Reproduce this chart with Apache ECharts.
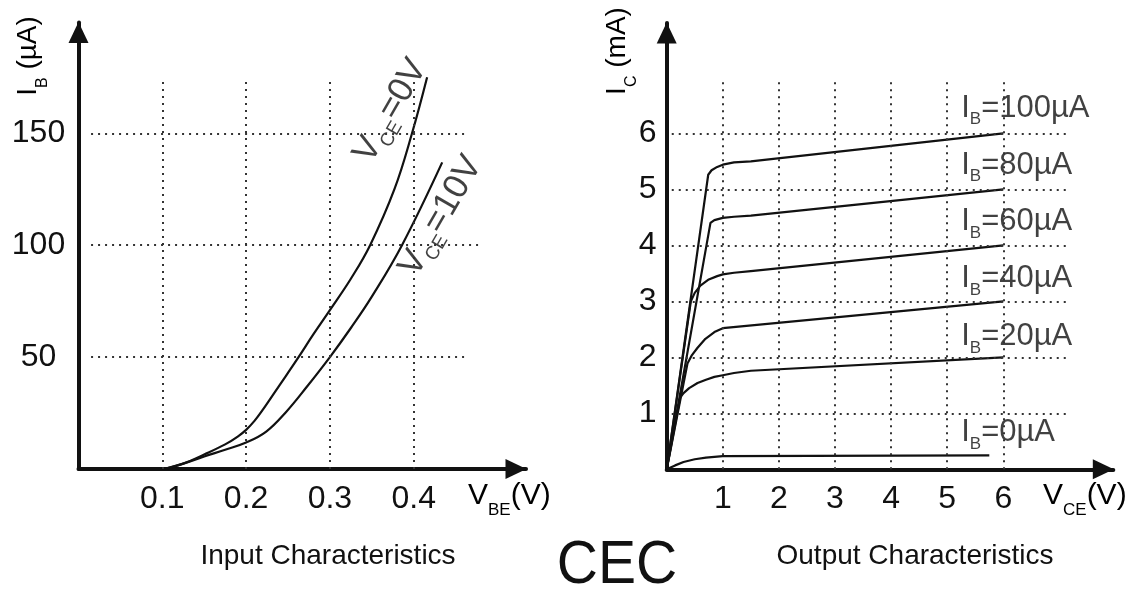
<!DOCTYPE html>
<html>
<head>
<meta charset="utf-8">
<script src="https://cdn.jsdelivr.net/npm/echarts@6/dist/echarts.min.js"></script>
<style>
    html, body {margin: 0; padding: 0; background: #fff;}
    #cec {width: 1131px; height: 592px;}
</style>
</head>
<body>
<div id="cec"></div>
<script>
// input characteristics: I_B (uA) against V_BE (V)
var vbeTicks = [0.1, 0.2, 0.3, 0.4];
var ibTicks = [50, 100, 150];
var vce0X = [0.102, 0.125, 0.15, 0.175, 0.19, 0.2, 0.21, 0.22, 0.24, 0.26, 0.28, 0.3, 0.325, 0.348, 0.377, 0.398, 0.416];
var vce0Y = [0, 2.4, 6.5, 11, 14.5, 17.5, 21.5, 26.5, 37.5, 48.5, 60, 71, 85, 100, 125, 150, 175];
var vce10X = [0.102, 0.125, 0.15, 0.175, 0.2, 0.224, 0.248, 0.272, 0.3, 0.325, 0.35, 0.386, 0.434];
var vce10Y = [0, 2.4, 5.6, 8.6, 11.8, 16.7, 25.6, 36.5, 50, 63, 77, 100, 137];
var vceNames = ['0V', '10V'];

// output characteristics: I_C (mA) against V_CE (V)
var vceTicks = [1, 2, 3, 4, 5, 6];
var icTicks = [1, 2, 3, 4, 5, 6];
var ibNames = ['100', '80', '60', '40', '20', '0'];
var ib100X = [0, 0.74, 0.8, 0.9, 1.0, 1.2, 1.5, 6];
var ib100Y = [0, 5.26, 5.34, 5.4, 5.44, 5.48, 5.5, 6];
var ib80X = [0, 0.78, 0.85, 1.0, 1.2, 1.5, 6];
var ib80Y = [0, 4.4, 4.45, 4.49, 4.51, 4.53, 5];
var ib60X = [0, 0.43, 0.5, 0.6, 0.75, 0.9, 1.0, 1.2, 1.5, 6];
var ib60Y = [0, 3.0, 3.15, 3.28, 3.39, 3.45, 3.48, 3.51, 3.54, 4];
var ib40X = [0, 0.37, 0.45, 0.55, 0.69, 0.85, 1.0, 6];
var ib40Y = [0, 1.89, 2.04, 2.17, 2.33, 2.45, 2.52, 3];
var ib20X = [0, 0.24, 0.3, 0.4, 0.55, 0.7, 0.85, 1.0, 1.2, 1.5, 6];
var ib20Y = [0, 1.28, 1.36, 1.45, 1.54, 1.6, 1.65, 1.68, 1.72, 1.76, 2];
var ib0X = [0, 0.15, 0.3, 0.5, 0.7, 1.0, 5.75];
var ib0Y = [0, 0.07, 0.13, 0.18, 0.21, 0.235, 0.25];

// where the curve names sit (data coords)
var vceLabelAt = [[0.3725, 160], [0.4325, 113]];
var ibLabelX = 5.24;
var ibLabelY = [6.45, 5.43, 4.42, 3.41, 2.37, 0.65];

var FONT = "'Liberation Sans', Arial, sans-serif";
var INK = '#111';

function pairs(xs, ys) {
    return xs.map(function (x, i) { return [x, ys[i]]; });
}

function subRich(size, sub, lh) {
    return {
        m: {fontSize: size, fontFamily: FONT, color: INK, lineHeight: lh},
        s: {fontSize: sub, fontFamily: FONT, color: INK, lineHeight: sub, verticalAlign: 'bottom'}
    };
}

function drawCec() {
    var myChart = echarts.init(document.getElementById('cec'));

    var dotted = {type: [2, 5], color: '#333', width: 2};
    var curve = {color: INK, width: 2.2};

    // grid lines of the left plot
    var leftGrid = vbeTicks.map(function (t) {
        return [{coord: [t, 0]}, {coord: [t, 175]}];
    });
    var hEnds = [0.465, 0.48, 0.465];
    ibTicks.forEach(function (t, i) {
        leftGrid.push([{coord: [0.015, t]}, {coord: [hEnds[i], t]}]);
    });
    // grid lines of the right plot
    var rightGrid = vceTicks.map(function (t) {
        return [{coord: [t, 0]}, {coord: [t, 7]}];
    });
    icTicks.forEach(function (t) {
        rightGrid.push([{coord: [0.09, t]}, {coord: [7.2, t]}]);
    });

    function axisX(idx, max, vals) {
        return {
            type: 'value', gridIndex: idx, min: 0, max: max,
            splitLine: {show: false},
            axisTick: {show: false},
            axisLine: {
                lineStyle: {color: INK, width: 4},
                symbol: ['none', 'triangle'],
                symbolSize: [20, 21],
                symbolOffset: [0, -10]
            },
            axisLabel: {
                customValues: vals, margin: 14,
                fontSize: 32, fontFamily: FONT, color: INK
            }
        };
    }

    function axisY(idx, max, vals, margin) {
        return {
            type: 'value', gridIndex: idx, min: 0, max: max,
            splitLine: {show: false},
            axisTick: {show: false},
            axisLine: {
                lineStyle: {color: INK, width: 4},
                symbol: ['none', 'triangle'],
                symbolSize: [20, 21],
                symbolOffset: [0, -10]
            },
            axisLabel: {
                customValues: vals, margin: margin, align: 'center',
                fontSize: 32, fontFamily: FONT, color: INK
            }
        };
    }

    function text(x, y, str, size, extra) {
        var el = {
            type: 'text', x: x, y: y, silent: true,
            style: {
                text: str, fill: INK,
                font: size + 'px ' + FONT,
                align: 'center', verticalAlign: 'middle',
                textAlign: 'center', textVerticalAlign: 'middle'
            }
        };
        if (extra) {
            for (var k in extra) el[k] = extra[k];
        }
        return el;
    }

    function richText(x, y, str, rich, rot, left) {
        return {
            type: 'text', x: x, y: y, rotation: rot || 0, silent: true,
            style: {
                text: str, rich: rich,
                align: left ? 'left' : 'center', verticalAlign: 'middle',
                textAlign: left ? 'left' : 'center', textVerticalAlign: 'middle'
            }
        };
    }

    var ibSeries = [
        pairs(ib100X, ib100Y), pairs(ib80X, ib80Y), pairs(ib60X, ib60Y),
        pairs(ib40X, ib40Y), pairs(ib20X, ib20Y), pairs(ib0X, ib0Y)
    ].map(function (d, i) {
        var s = {
            type: 'line', xAxisIndex: 1, yAxisIndex: 1,
            data: d, showSymbol: false, lineStyle: curve, silent: true
        };
        if (i === 0) {
            s.markLine = {
                silent: true, symbol: ['none', 'none'], label: {show: false},
                lineStyle: dotted, data: rightGrid
            };
        }
        return s;
    });

    option = {
        animation: false,
        backgroundColor: '#fff',
        grid: [
            {left: 78.5, top: 22.5, width: 447.5, height: 446.5, outerBoundsMode: 'none'},
            {left: 666.7, top: 23, width: 446.6, height: 446.3, outerBoundsMode: 'none'}
        ],
        xAxis: [axisX(0, 0.534, vbeTicks), axisX(1, 7.96, vceTicks)],
        yAxis: [axisY(0, 199.5, ibTicks, 40), axisY(1, 7.97, icTicks, 19)],
        graphic: [
            richText(28, 56, '{m|I}{s|B}{m| (µA)}', subRich(28, 16, 46), Math.PI / 2),
            richText(617, 51, '{m|I}{s|C}{m| (mA)}', subRich(28, 16, 46), Math.PI / 2),
            richText(468, 496, '{m|V}{s|BE}{m|(V)}', subRich(30, 17, 46), 0, true),
            richText(1043, 496, '{m|V}{s|CE}{m|(V)}', subRich(30, 17, 46), 0, true),
            text(328, 556, 'Input Characteristics', 28),
            text(915, 556, 'Output Characteristics', 28),
            text(617, 566, 'CEC', 62, {scaleX: 0.92})
        ],
        series: [
            {
                type: 'line', xAxisIndex: 0, yAxisIndex: 0,
                data: pairs(vce0X, vce0Y), smooth: 0.4, showSymbol: false,
                lineStyle: curve, silent: true,
                markLine: {
                    silent: true, symbol: ['none', 'none'], label: {show: false},
                    lineStyle: dotted, data: leftGrid
                }
            },
            {
                type: 'line', xAxisIndex: 0, yAxisIndex: 0,
                data: pairs(vce10X, vce10Y), smooth: 0.4, showSymbol: false,
                lineStyle: curve, silent: true
            },
            {
                type: 'scatter', xAxisIndex: 0, yAxisIndex: 0, silent: true,
                symbolSize: 1, itemStyle: {color: 'transparent'},
                data: vceNames.map(function (n, i) {
                    return {name: n, value: vceLabelAt[i]};
                }),
                label: {
                    show: true, position: 'inside', rotate: 60,
                    formatter: function (p) {
                        return '{m|V}{s|CE}{m|=' + p.name + '}';
                    },
                    rich: subRich(35, 19, 44)
                }
            },
            {
                type: 'scatter', xAxisIndex: 1, yAxisIndex: 1, silent: true,
                symbolSize: 1, itemStyle: {color: 'transparent'},
                data: ibNames.map(function (n, i) {
                    return {name: n, value: [ibLabelX, ibLabelY[i]]};
                }),
                label: {
                    show: true, position: 'right', distance: 0,
                    formatter: function (p) {
                        return '{m|I}{s|B}{m|=' + p.name + 'µA}';
                    },
                    rich: subRich(31, 17, 40)
                }
            }
        ].concat(ibSeries)
    };

    myChart.setOption(option);
}

drawCec();
</script>
</body>
</html>
